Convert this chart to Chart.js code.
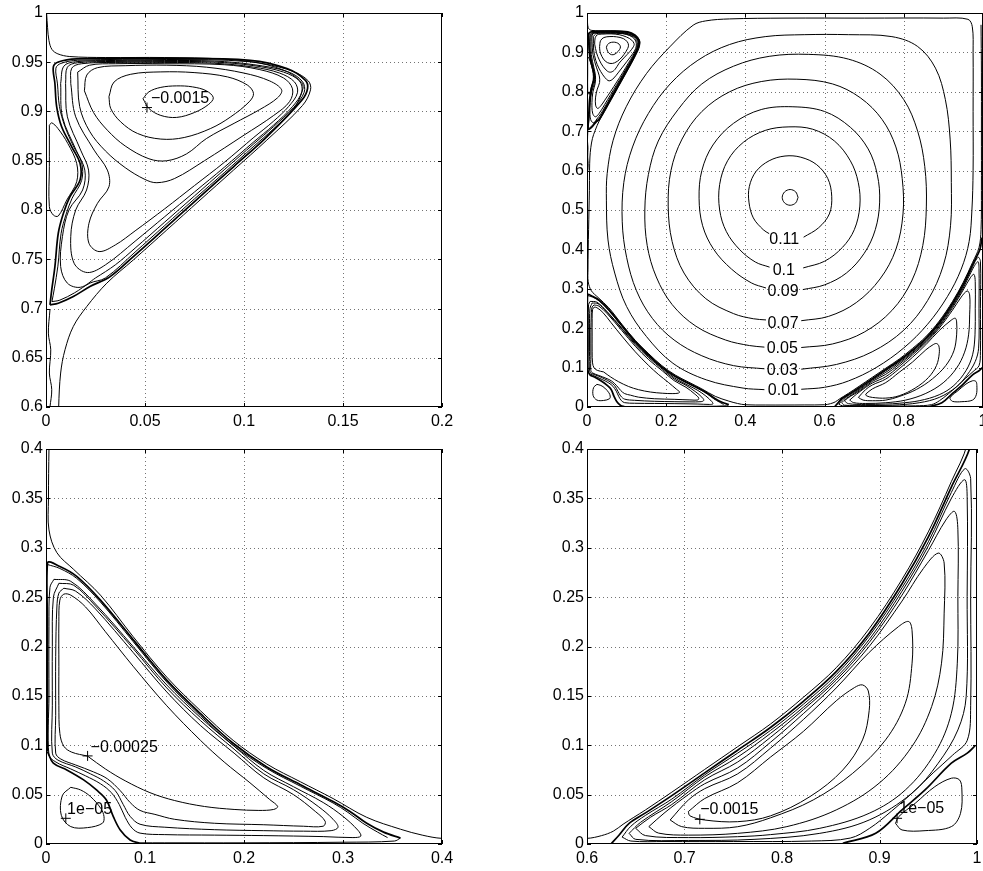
<!DOCTYPE html>
<html>
<head>
<meta charset="utf-8">
<script src="https://cdn.jsdelivr.net/npm/chart.js@4.4.0/dist/chart.umd.min.js"></script>
<style>
  html, body { margin: 0; padding: 0; background: #fff; }
  #page { position: relative; width: 983px; height: 871px; overflow: hidden; }
  canvas { position: absolute; }
</style>
</head>
<body>
<div id="page">
  <canvas id="tl" width="460" height="430" style="left:0px;top:0px"></canvas>
  <canvas id="tr" width="493" height="430" style="left:490px;top:0px"></canvas>
  <canvas id="bl" width="460" height="441" style="left:0px;top:430px"></canvas>
  <canvas id="br" width="493" height="441" style="left:490px;top:430px"></canvas>
</div>
<script>
// ---- axis ticks ----
const tlXTicks = [0, 0.05, 0.1, 0.15, 0.2];
const tlXLabels = ['0', '0.05', '0.1', '0.15', '0.2'];
const tlYTicks = [0.6, 0.65, 0.7, 0.75, 0.8, 0.85, 0.9, 0.95, 1];
const tlYLabels = ['0.6', '0.65', '0.7', '0.75', '0.8', '0.85', '0.9', '0.95', '1'];
const trXTicks = [0, 0.2, 0.4, 0.6, 0.8, 1];
const trXLabels = ['0', '0.2', '0.4', '0.6', '0.8', '1'];
const trYTicks = [0, 0.1, 0.2, 0.3, 0.4, 0.5, 0.6, 0.7, 0.8, 0.9, 1];
const trYLabels = ['0', '0.1', '0.2', '0.3', '0.4', '0.5', '0.6', '0.7', '0.8', '0.9', '1'];
const blXTicks = [0, 0.1, 0.2, 0.3, 0.4];
const blXLabels = ['0', '0.1', '0.2', '0.3', '0.4'];
const brXTicks = [0.6, 0.7, 0.8, 0.9, 1];
const brXLabels = ['0.6', '0.7', '0.8', '0.9', '1'];
const lowYTicks = [0, 0.05, 0.1, 0.15, 0.2, 0.25, 0.3, 0.35, 0.4];
const lowYLabels = ['0', '0.05', '0.1', '0.15', '0.2', '0.25', '0.3', '0.35', '0.4'];

// ---- streamline: runs along the walls round the corner vortices ----
const outerLine = [[0.0003,1.0],[0.0008,0.985],[0.0015,0.972],[0.003,0.963],[0.006,0.9585],[0.012,0.9558],[0.03,0.9548],[0.06,0.9548],[0.09,0.9532],[0.11,0.9485],[0.125,0.9405],[0.1325,0.931],[0.1336,0.922],[0.1295,0.906],[0.1115,0.8709],[0.0947,0.8405],[0.0778,0.8101],[0.061,0.7797],[0.0441,0.7493],[0.0307,0.7257],[0.0206,0.702],[0.0138,0.6818],[0.0096,0.6581],[0.0074,0.6345],[0.0064,0.6],[0.006,0.55],[0.005,0.5],[0.004,0.45],[0.003,0.4],[0.0025,0.35],[0.003,0.318],[0.011,0.295],[0.028,0.278],[0.055,0.252],[0.088,0.21],[0.122,0.169],[0.156,0.135],[0.189,0.105],[0.223,0.081],[0.257,0.063],[0.29,0.046],[0.324,0.027],[0.358,0.015],[0.38,0.009],[0.4,0.0057],[0.45,0.005],[0.5,0.005],[0.55,0.0052],[0.6,0.0057],[0.615,0.0085],[0.627,0.013],[0.637,0.02],[0.648,0.027],[0.66,0.0345],[0.687,0.0525],[0.7207,0.0755],[0.7545,0.0985],[0.7882,0.1215],[0.8219,0.1485],[0.8556,0.1785],[0.8894,0.218],[0.9231,0.268],[0.95,0.316],[0.9737,0.367],[0.99,0.405],[0.995,0.45],[0.996,0.55],[0.996,0.7],[0.996,0.85],[0.995,0.97]];

// ---- top-left corner vortex ----
const tlCore = [[0.049,0.913],[0.052,0.92],[0.058,0.9245],[0.066,0.926],[0.074,0.925],[0.081,0.921],[0.0845,0.914],[0.082,0.907],[0.075,0.899],[0.066,0.894],[0.058,0.896],[0.052,0.903],[0.049,0.913]];
const tlRing2 = [[0.0318,0.915],[0.0344,0.93],[0.0428,0.9378],[0.058,0.9402],[0.0748,0.9395],[0.0917,0.9351],[0.1018,0.9267],[0.1048,0.9182],[0.1026,0.9098],[0.0933,0.8946],[0.0832,0.8828],[0.0698,0.8736],[0.058,0.872],[0.0462,0.8777],[0.0377,0.8895],[0.0327,0.903],[0.0318,0.915]];
const tlRing3 = [[0.0194,0.921],[0.0206,0.937],[0.026,0.9445],[0.04,0.9465],[0.061,0.947],[0.081,0.945],[0.1,0.939],[0.113,0.931],[0.119,0.922],[0.117,0.914],[0.108,0.902],[0.095,0.888],[0.081,0.8725],[0.071,0.857],[0.061,0.85],[0.052,0.852],[0.04,0.865],[0.031,0.881],[0.024,0.899],[0.0194,0.921]];
const tlRing4 = [[0.016,0.94],[0.017,0.905],[0.022,0.88],[0.03,0.86],[0.04,0.843],[0.05,0.831],[0.056,0.8277],[0.065,0.832],[0.08,0.85],[0.1,0.876],[0.115,0.896],[0.123,0.91],[0.1245,0.923],[0.12,0.934],[0.108,0.9425],[0.09,0.9475],[0.06,0.9485],[0.035,0.9485],[0.022,0.947],[0.016,0.94]];
const tlRing5 = [[0.0125,0.9284],[0.015,0.8946],[0.0243,0.8608],[0.031,0.8405],[0.0318,0.8236],[0.026,0.8068],[0.0217,0.7865],[0.0217,0.7662],[0.0268,0.7578],[0.035,0.7645],[0.045,0.7788],[0.06,0.8013],[0.075,0.8248],[0.09,0.8483],[0.105,0.8738],[0.115,0.8903],[0.1225,0.905],[0.127,0.919],[0.1255,0.93],[0.118,0.939],[0.105,0.945],[0.085,0.949],[0.06,0.9498],[0.035,0.9498],[0.018,0.9485],[0.013,0.944],[0.0125,0.9284]];
const tlRing6 = [[0.0099,0.9284],[0.0108,0.8946],[0.0175,0.8608],[0.0215,0.8405],[0.0205,0.8203],[0.015,0.8],[0.0125,0.773],[0.0142,0.7459],[0.0209,0.7365],[0.03,0.7443],[0.045,0.7683],[0.06,0.7933],[0.075,0.8183],[0.09,0.8433],[0.105,0.8693],[0.115,0.8863],[0.1245,0.905],[0.1292,0.92],[0.128,0.931],[0.12,0.94],[0.105,0.9465],[0.085,0.9502],[0.06,0.9508],[0.035,0.9508],[0.016,0.9495],[0.0108,0.945],[0.0099,0.9284]];
const tlRing7 = [[0.0074,0.9284],[0.0083,0.8946],[0.0152,0.8608],[0.0196,0.8405],[0.0185,0.8203],[0.0116,0.8],[0.0083,0.773],[0.0074,0.7426],[0.0108,0.7257],[0.0175,0.7216],[0.025,0.731],[0.035,0.7443],[0.045,0.7613],[0.06,0.7878],[0.075,0.8143],[0.09,0.8408],[0.105,0.8673],[0.115,0.8848],[0.125,0.904],[0.1304,0.9195],[0.1295,0.9305],[0.122,0.9405],[0.105,0.9475],[0.085,0.9512],[0.06,0.9518],[0.035,0.9518],[0.015,0.9505],[0.009,0.946],[0.0074,0.9284]];
const tlSepA = [[0.002,0.7037],[0.0062,0.7054],[0.0138,0.7122],[0.0222,0.7223],[0.0324,0.7324],[0.0441,0.7527],[0.061,0.7831],[0.0778,0.8135],[0.0947,0.8439],[0.1115,0.8743],[0.1292,0.9115],[0.1321,0.9233],[0.1309,0.9318],[0.1217,0.9436],[0.1031,0.952],[0.061,0.954],[0.0155,0.9534],[0.0062,0.9503],[0.0037,0.9453],[0.0045,0.9284],[0.0054,0.9047],[0.0079,0.8845],[0.013,0.8642],[0.0172,0.8473],[0.0172,0.8304],[0.0121,0.8135],[0.0088,0.7966],[0.0062,0.7764],[0.0045,0.7426],[0.0029,0.7189],[0.002,0.7037]];
const tlSepB = [[0.003,0.707],[0.007,0.7085],[0.0145,0.716],[0.0222,0.7258],[0.03,0.731],[0.045,0.7573],[0.06,0.7843],[0.075,0.8113],[0.09,0.8378],[0.105,0.8648],[0.115,0.8825],[0.125,0.9025],[0.1298,0.9235],[0.1285,0.931],[0.12,0.942],[0.103,0.9505],[0.061,0.9528],[0.016,0.952],[0.0075,0.9488],[0.005,0.944],[0.0058,0.928],[0.0068,0.905],[0.0095,0.885],[0.0138,0.865],[0.018,0.848],[0.018,0.83],[0.0132,0.812],[0.0102,0.796],[0.0076,0.776],[0.006,0.743],[0.0042,0.72],[0.003,0.707]];
const tlLobe = [[0.0017,0.8861],[0.0017,0.8439],[0.0017,0.8034],[0.0037,0.7949],[0.0062,0.7939],[0.0105,0.8101],[0.0155,0.8287],[0.0155,0.8473],[0.011,0.8676],[0.006,0.8828],[0.0029,0.8885],[0.0017,0.8861]];
const tlWall = [[0.002,0.6986],[0.0012,0.675],[0.0024,0.6581],[0.0017,0.6345],[0.0029,0.6176],[0.002,0.6]];

// ---- bottom-left corner vortex ----
const blCore = [[0.042,0.089],[0.06,0.076],[0.08,0.064],[0.105,0.052],[0.13,0.044],[0.16,0.038],[0.19,0.035],[0.215,0.034],[0.23,0.035],[0.234,0.038],[0.226,0.045],[0.206,0.062],[0.18,0.083],[0.156,0.105],[0.122,0.14],[0.088,0.18],[0.06,0.215],[0.04,0.24],[0.025,0.252],[0.018,0.253],[0.014,0.247],[0.013,0.225],[0.013,0.18],[0.013,0.14],[0.014,0.112],[0.018,0.099],[0.026,0.093],[0.042,0.089]];
const blRing2 = [[0.018,0.259],[0.03,0.256],[0.05,0.238],[0.088,0.194],[0.122,0.154],[0.156,0.12],[0.19,0.092],[0.22,0.067],[0.25,0.05],[0.272,0.033],[0.282,0.023],[0.28,0.018],[0.26,0.018],[0.22,0.0195],[0.17,0.021],[0.13,0.025],[0.11,0.03],[0.095,0.034],[0.085,0.042],[0.075,0.054],[0.062,0.066],[0.048,0.073],[0.03,0.08],[0.015,0.086],[0.0098,0.092],[0.0098,0.13],[0.0098,0.19],[0.011,0.24],[0.013,0.254],[0.018,0.259]];
const blRing3 = [[0.013,0.264],[0.028,0.262],[0.05,0.241],[0.088,0.198],[0.122,0.158],[0.156,0.125],[0.19,0.096],[0.22,0.071],[0.25,0.055],[0.275,0.038],[0.29,0.025],[0.295,0.017],[0.288,0.0135],[0.26,0.013],[0.22,0.0135],[0.17,0.0145],[0.12,0.017],[0.095,0.02],[0.085,0.028],[0.078,0.04],[0.07,0.054],[0.058,0.064],[0.045,0.071],[0.03,0.078],[0.012,0.085],[0.0064,0.092],[0.0064,0.14],[0.0064,0.2],[0.0075,0.25],[0.013,0.264]];
const blRing4 = [[0.008,0.268],[0.025,0.266],[0.05,0.243],[0.088,0.2],[0.122,0.161],[0.156,0.128],[0.19,0.099],[0.22,0.0745],[0.25,0.058],[0.28,0.042],[0.3,0.028],[0.315,0.014],[0.318,0.008],[0.31,0.0065],[0.28,0.0075],[0.22,0.0085],[0.17,0.009],[0.12,0.0095],[0.095,0.011],[0.087,0.016],[0.08,0.027],[0.074,0.04],[0.066,0.052],[0.055,0.061],[0.04,0.069],[0.025,0.076],[0.01,0.083],[0.003,0.09],[0.003,0.15],[0.003,0.22],[0.004,0.26],[0.008,0.268]];
const blSepA = [[0.0015,0.0936],[0.0015,0.15],[0.0015,0.22],[0.0015,0.2845],[0.014,0.281],[0.031,0.271],[0.055,0.247],[0.088,0.207],[0.122,0.166],[0.156,0.132],[0.189,0.102],[0.223,0.078],[0.257,0.06],[0.29,0.043],[0.307,0.033],[0.324,0.021],[0.341,0.012],[0.358,0.006]];
const blFloor = [[0.358,0.006],[0.352,0.003],[0.3,0.0018],[0.2,0.0012],[0.12,0.0012],[0.095,0.0012]];
const blSepB = [[0.0015,0.283],[0.014,0.279],[0.031,0.269],[0.055,0.245],[0.088,0.205],[0.122,0.164],[0.156,0.13],[0.189,0.1],[0.223,0.0765],[0.257,0.0585],[0.29,0.0415],[0.305,0.032],[0.32,0.021],[0.335,0.012],[0.345,0.0065]];
const blCornerSep = [[0.0015,0.0936],[0.0074,0.0818],[0.021,0.075],[0.038,0.0649],[0.051,0.0547],[0.061,0.0446],[0.068,0.0277],[0.075,0.0142],[0.085,0.004],[0.095,0.0007]];
const blCornerLoop = [[0.025,0.0574],[0.035,0.0547],[0.045,0.048],[0.0553,0.0361],[0.0586,0.0277],[0.057,0.021],[0.042,0.0166],[0.025,0.0176],[0.0155,0.029],[0.0165,0.049],[0.025,0.0574]];

// ---- bottom-right corner vortex ----
const brCore = [[0.7039,0.0328],[0.7207,0.046],[0.7545,0.062],[0.7882,0.088],[0.8219,0.114],[0.8556,0.145],[0.8745,0.1585],[0.8826,0.1611],[0.8885,0.155],[0.8894,0.135],[0.8826,0.1054],[0.8624,0.075],[0.8287,0.048],[0.7882,0.0285],[0.7545,0.0226],[0.7207,0.0243],[0.7056,0.0285],[0.7039,0.0328]];
const brRing2 = [[0.6853,0.0243],[0.7039,0.0445],[0.7207,0.056],[0.7545,0.071],[0.7882,0.097],[0.8219,0.126],[0.8556,0.158],[0.8894,0.194],[0.9197,0.2203],[0.93,0.2253],[0.9334,0.2159],[0.9334,0.1831],[0.9265,0.1426],[0.9062,0.1054],[0.8725,0.0716],[0.832,0.0446],[0.7882,0.0265],[0.7545,0.0175],[0.7207,0.0159],[0.6971,0.0176],[0.6853,0.0243]];
const brRing3 = [[0.6634,0.0176],[0.68,0.032],[0.7039,0.05],[0.7207,0.061],[0.7545,0.077],[0.7882,0.103],[0.8219,0.132],[0.8556,0.163],[0.8894,0.2],[0.9231,0.246],[0.945,0.279],[0.9602,0.2946],[0.9663,0.2845],[0.9663,0.2338],[0.9636,0.1831],[0.9535,0.1392],[0.9332,0.0986],[0.8995,0.0615],[0.8556,0.0345],[0.805,0.0176],[0.7545,0.0108],[0.7039,0.009],[0.6735,0.011],[0.6634,0.0176]];
const brRing4 = [[0.6499,0.0159],[0.665,0.027],[0.687,0.04],[0.7207,0.065],[0.7545,0.083],[0.7882,0.108],[0.8219,0.136],[0.8556,0.166],[0.8894,0.204],[0.9231,0.252],[0.95,0.297],[0.968,0.328],[0.977,0.3368],[0.9804,0.3182],[0.9804,0.2507],[0.9798,0.1831],[0.9737,0.1324],[0.9568,0.0919],[0.9265,0.0547],[0.8894,0.0311],[0.8388,0.0159],[0.7882,0.0095],[0.7545,0.0074],[0.7039,0.0065],[0.66,0.0085],[0.6499,0.0159]];
const brRing5 = [[0.6432,0.0108],[0.655,0.022],[0.687,0.043],[0.7207,0.068],[0.7545,0.088],[0.7882,0.112],[0.8219,0.1385],[0.8556,0.1685],[0.8894,0.207],[0.9231,0.256],[0.9501,0.302],[0.9737,0.35],[0.9872,0.3689],[0.9899,0.352],[0.9899,0.2507],[0.9889,0.1493],[0.9804,0.1155],[0.9602,0.0818],[0.9332,0.0514],[0.8894,0.0243],[0.8388,0.0108],[0.7713,0.0047],[0.7039,0.0036],[0.65,0.0047],[0.6432,0.0108]];
const brRing6 = [[0.636,0.007],[0.645,0.018],[0.66,0.029],[0.687,0.0455],[0.7207,0.07],[0.7545,0.092],[0.7882,0.115],[0.8219,0.1415],[0.8556,0.1715],[0.8894,0.2105],[0.9231,0.2595],[0.9501,0.306],[0.9737,0.356],[0.9875,0.38],[0.9935,0.37],[0.9935,0.25],[0.9935,0.14],[0.99,0.105],[0.975,0.09],[0.955,0.072],[0.935,0.053],[0.912,0.033],[0.89,0.016],[0.87,0.006],[0.83,0.003],[0.75,0.0025],[0.68,0.0025],[0.645,0.003],[0.636,0.007]];
const brSep = [[0.6246,0],[0.633,0.0091],[0.6432,0.0209],[0.66,0.0315],[0.687,0.049],[0.7207,0.072],[0.7545,0.095],[0.7882,0.118],[0.8219,0.1445],[0.8556,0.1745],[0.8894,0.2135],[0.9231,0.2635],[0.9501,0.311],[0.9737,0.3615],[0.9923,0.4],[0.997,0.43]];
const brCornerSep = [[0.9985,0.1],[0.99,0.092],[0.9737,0.0818],[0.9467,0.0547],[0.9231,0.0345],[0.8961,0.0108],[0.8624,0.0007]];
const brCornerLoop = [[0.9164,0.0209],[0.9231,0.0142],[0.9467,0.0135],[0.9737,0.0176],[0.9831,0.0311],[0.9845,0.0547],[0.9821,0.0649],[0.9737,0.0666],[0.9568,0.0581],[0.9366,0.0412],[0.9197,0.0277],[0.9164,0.0209]];

// ---- primary vortex (full cavity), gaps left where the inline labels sit ----
const mainEye = [[0.533,0.532],[0.527,0.546],[0.513,0.552],[0.499,0.546],[0.493,0.532],[0.499,0.518],[0.513,0.512],[0.527,0.518],[0.533,0.532]];
const main011 = [[0.547,0.431],[0.585,0.455],[0.612,0.49],[0.618,0.535],[0.608,0.58],[0.58,0.615],[0.54,0.634],[0.5,0.637],[0.46,0.625],[0.427,0.598],[0.41,0.56],[0.409,0.52],[0.42,0.48],[0.445,0.45],[0.46,0.44]];
const main010 = [[0.546,0.353],[0.6,0.37],[0.645,0.405],[0.675,0.45],[0.689,0.51],[0.685,0.57],[0.665,0.625],[0.625,0.675],[0.57,0.705],[0.51,0.711],[0.45,0.702],[0.395,0.672],[0.355,0.625],[0.335,0.565],[0.335,0.5],[0.352,0.445],[0.385,0.4],[0.425,0.368],[0.461,0.355]];
const main009 = [[0.545,0.298],[0.6,0.31],[0.655,0.34],[0.7,0.39],[0.728,0.45],[0.739,0.52],[0.733,0.59],[0.71,0.655],[0.665,0.71],[0.6,0.75],[0.52,0.762],[0.44,0.755],[0.37,0.72],[0.318,0.665],[0.29,0.6],[0.283,0.53],[0.292,0.46],[0.32,0.4],[0.365,0.35],[0.415,0.315],[0.452,0.302]];
const main007 = [[0.541,0.219],[0.61,0.23],[0.68,0.265],[0.74,0.325],[0.78,0.4],[0.798,0.49],[0.796,0.58],[0.78,0.66],[0.745,0.73],[0.69,0.785],[0.62,0.82],[0.53,0.832],[0.44,0.826],[0.36,0.8],[0.29,0.75],[0.24,0.68],[0.212,0.6],[0.205,0.51],[0.215,0.42],[0.245,0.34],[0.3,0.275],[0.37,0.237],[0.42,0.224],[0.452,0.221]];
const main005 = [[0.541,0.151],[0.62,0.16],[0.7,0.19],[0.77,0.245],[0.82,0.32],[0.848,0.41],[0.857,0.51],[0.853,0.61],[0.835,0.7],[0.8,0.78],[0.74,0.845],[0.66,0.883],[0.56,0.895],[0.46,0.89],[0.37,0.865],[0.29,0.82],[0.23,0.755],[0.18,0.675],[0.155,0.59],[0.146,0.5],[0.152,0.41],[0.175,0.33],[0.215,0.26],[0.275,0.205],[0.35,0.17],[0.41,0.156],[0.448,0.152]];
const main003 = [[0.541,0.096],[0.63,0.108],[0.72,0.14],[0.8,0.195],[0.86,0.27],[0.9,0.36],[0.918,0.46],[0.92,0.57],[0.917,0.68],[0.905,0.78],[0.88,0.86],[0.835,0.915],[0.77,0.94],[0.66,0.945],[0.55,0.945],[0.45,0.94],[0.36,0.92],[0.28,0.88],[0.21,0.82],[0.155,0.745],[0.115,0.66],[0.093,0.57],[0.089,0.47],[0.1,0.38],[0.125,0.295],[0.165,0.225],[0.22,0.17],[0.29,0.13],[0.37,0.105],[0.448,0.097]];
const main001 = [[0.541,0.045],[0.6,0.05],[0.66,0.066],[0.73,0.1],[0.8,0.15],[0.86,0.21],[0.91,0.28],[0.945,0.35],[0.965,0.42],[0.972,0.5],[0.975,0.6],[0.975,0.75],[0.975,0.9],[0.973,0.965],[0.962,0.984],[0.9,0.987],[0.7,0.987],[0.5,0.987],[0.36,0.985],[0.3,0.98],[0.268,0.969],[0.209,0.914],[0.15,0.846],[0.099,0.762],[0.066,0.677],[0.051,0.593],[0.049,0.525],[0.053,0.424],[0.07,0.34],[0.1,0.255],[0.15,0.179],[0.217,0.111],[0.301,0.069],[0.394,0.048],[0.448,0.044]];

// ---- contour labels and their '+' marks ----
const tlTexts = [{ x: 0.0677, y: 0.9132, t: '\u22120.0015' }];
const tlMarks = [[0.051, 0.904]];
const trTexts = [
  { x: 0.498, y: 0.426, t: '0.11' }, { x: 0.497, y: 0.347, t: '0.1' }, { x: 0.495, y: 0.293, t: '0.09' },
  { x: 0.495, y: 0.212, t: '0.07' }, { x: 0.493, y: 0.148, t: '0.05' }, { x: 0.493, y: 0.093, t: '0.03' },
  { x: 0.496, y: 0.042, t: '0.01' }
];
const blTexts = [{ x: 0.079, y: 0.098, t: '\u22120.00025' }, { x: 0.044, y: 0.0345, t: '1e\u221205' }];
const blMarks = [[0.042, 0.0892], [0.02, 0.026]];
const brTexts = [{ x: 0.746, y: 0.0345, t: '\u22120.0015' }, { x: 0.9433, y: 0.0361, t: '1e\u221205' }];
const brMarks = [[0.7157, 0.025], [0.918, 0.026]];

const FONT = '"Liberation Sans", Arial, Helvetica, sans-serif';

function toPts(arr) {
  return arr.map(p => ({ x: p[0], y: p[1] }));
}

function lines(list) {
  return list.map(([pts, w]) => ({
    data: toPts(pts),
    showLine: true,
    borderColor: '#000',
    borderWidth: w,
    pointRadius: 0,
    tension: 0.35,
    fill: false
  }));
}

function marks(pts) {
  return {
    data: toPts(pts),
    showLine: false,
    pointStyle: 'cross',
    pointRadius: 5,
    borderColor: '#000',
    borderWidth: 1
  };
}

// dotted grid, box, inward ticks (matlab look)
const matlabAxes = {
  id: 'matlabAxes',
  beforeDatasetsDraw(chart) {
    const { ctx, chartArea: a, scales: { x, y } } = chart;
    ctx.save();
    ctx.strokeStyle = 'rgba(0,0,0,0.55)';
    ctx.lineWidth = 1;
    ctx.setLineDash([1, 3]);
    x.ticks.forEach(t => {
      const px = Math.round(x.getPixelForValue(t.value)) + 0.5;
      if (px < a.left + 3 || px > a.right - 3) return;
      ctx.beginPath(); ctx.moveTo(px, a.top); ctx.lineTo(px, a.bottom); ctx.stroke();
    });
    y.ticks.forEach(t => {
      const py = Math.round(y.getPixelForValue(t.value)) + 0.5;
      if (py < a.top + 3 || py > a.bottom - 3) return;
      ctx.beginPath(); ctx.moveTo(a.left, py); ctx.lineTo(a.right, py); ctx.stroke();
    });
    ctx.restore();
  },
  afterDatasetsDraw(chart) {
    const { ctx, chartArea: a, scales: { x, y } } = chart;
    ctx.save();
    ctx.strokeStyle = '#000';
    ctx.lineWidth = 1;
    ctx.strokeRect(a.left + 0.5, a.top + 0.5, a.right - a.left - 1, a.bottom - a.top - 1);
    const tl = 4;
    ctx.beginPath();
    x.ticks.forEach(t => {
      const px = Math.round(x.getPixelForValue(t.value)) + 0.5;
      ctx.moveTo(px, a.bottom); ctx.lineTo(px, a.bottom - tl);
      ctx.moveTo(px, a.top); ctx.lineTo(px, a.top + tl);
    });
    y.ticks.forEach(t => {
      const py = Math.round(y.getPixelForValue(t.value)) + 0.5;
      ctx.moveTo(a.left, py); ctx.lineTo(a.left + tl, py);
      ctx.moveTo(a.right, py); ctx.lineTo(a.right - tl, py);
    });
    ctx.stroke();
    ctx.restore();
  }
};

const contourText = {
  id: 'contourText',
  afterDatasetsDraw(chart, args, opts) {
    const { ctx, scales: { x, y } } = chart;
    ctx.save();
    ctx.fillStyle = '#000';
    ctx.font = '16px ' + FONT;
    ctx.textAlign = 'center';
    ctx.textBaseline = 'middle';
    (opts.items || []).forEach(it => {
      ctx.fillText(it.t, x.getPixelForValue(it.x), y.getPixelForValue(it.y));
    });
    ctx.restore();
  }
};

function panel(id, o) {
  const tickFont = { family: FONT, size: 16 };
  return new Chart(document.getElementById(id), {
    type: 'scatter',
    data: { datasets: o.datasets },
    options: {
      responsive: false,
      animation: false,
      events: [],
      devicePixelRatio: 1,
      layout: { padding: { top: o.top, right: o.right, left: 0, bottom: 0 } },
      plugins: {
        legend: { display: false },
        tooltip: { enabled: false },
        contourText: { items: o.texts }
      },
      scales: {
        x: {
          type: 'linear',
          min: o.xTicks[0],
          max: o.xTicks[o.xTicks.length - 1],
          afterBuildTicks: s => { s.ticks = o.xTicks.map(v => ({ value: v })); },
          afterFit: s => { s.height = o.xh; s.paddingLeft = 0; s.paddingRight = 0; },
          ticks: { font: tickFont, color: '#000', padding: 5, maxRotation: 0, autoSkip: false,
                   callback: (v, i) => o.xLabels[i] },
          grid: { display: false, drawTicks: false },
          border: { display: false }
        },
        y: {
          type: 'linear',
          min: o.yTicks[0],
          max: o.yTicks[o.yTicks.length - 1],
          afterBuildTicks: s => { s.ticks = o.yTicks.map(v => ({ value: v })); },
          afterFit: s => { s.width = o.yw; s.paddingTop = 0; s.paddingBottom = 0; },
          ticks: { font: tickFont, color: '#000', padding: 3, autoSkip: false,
                   callback: (v, i) => o.yLabels[i] },
          grid: { display: false, drawTicks: false },
          border: { display: false }
        }
      }
    },
    plugins: [matlabAxes, contourText]
  });
}

const thin = 1, thick = 1.7;

const topLeftSet = [
  [tlCore, thin], [tlRing2, thin], [tlRing3, thin], [tlRing4, thin], [tlRing5, thin],
  [tlRing6, thin], [tlRing7, thin], [tlSepA, thick], [tlSepB, thin], [tlLobe, thin], [tlWall, thin]
];
const bottomLeftSet = [
  [blCore, thin], [blRing2, thin], [blRing3, thin], [blRing4, thin], [blSepA, thick], [blFloor, thin],
  [blSepB, thin], [blCornerSep, thick], [blCornerLoop, thin]
];
const bottomRightSet = [
  [brCore, thin], [brRing2, thin], [brRing3, thin], [brRing4, thin], [brRing5, thin], [brRing6, thin],
  [brSep, thick], [brCornerSep, thick], [brCornerLoop, thin]
];
const mainSet = [
  [mainEye, thin], [main011, thin], [main010, thin], [main009, thin], [main007, thin],
  [main005, thin], [main003, thin], [main001, thin]
];

panel('tl', {
  datasets: lines([...topLeftSet, [outerLine, thin]]).concat([marks(tlMarks)]),
  texts: tlTexts, xTicks: tlXTicks, xLabels: tlXLabels, yTicks: tlYTicks, yLabels: tlYLabels,
  top: 13, right: 18, yw: 46, xh: 23
});
panel('tr', {
  datasets: lines([...mainSet, ...topLeftSet, ...bottomLeftSet, ...bottomRightSet, [outerLine, thin]]),
  texts: trTexts, xTicks: trXTicks, xLabels: trXLabels, yTicks: trYTicks, yLabels: trYLabels,
  top: 13, right: 0, yw: 97, xh: 23
});
panel('bl', {
  datasets: lines([...bottomLeftSet, [outerLine, thin]]).concat([marks(blMarks)]),
  texts: blTexts, xTicks: blXTicks, xLabels: blXLabels, yTicks: lowYTicks, yLabels: lowYLabels,
  top: 19, right: 18, yw: 46, xh: 27
});
panel('br', {
  datasets: lines([...bottomRightSet, [outerLine, thin]]).concat([marks(brMarks)]),
  texts: brTexts, xTicks: brXTicks, xLabels: brXLabels, yTicks: lowYTicks, yLabels: lowYLabels,
  top: 19, right: 0, yw: 97, xh: 27
});
</script>
</body>
</html>
